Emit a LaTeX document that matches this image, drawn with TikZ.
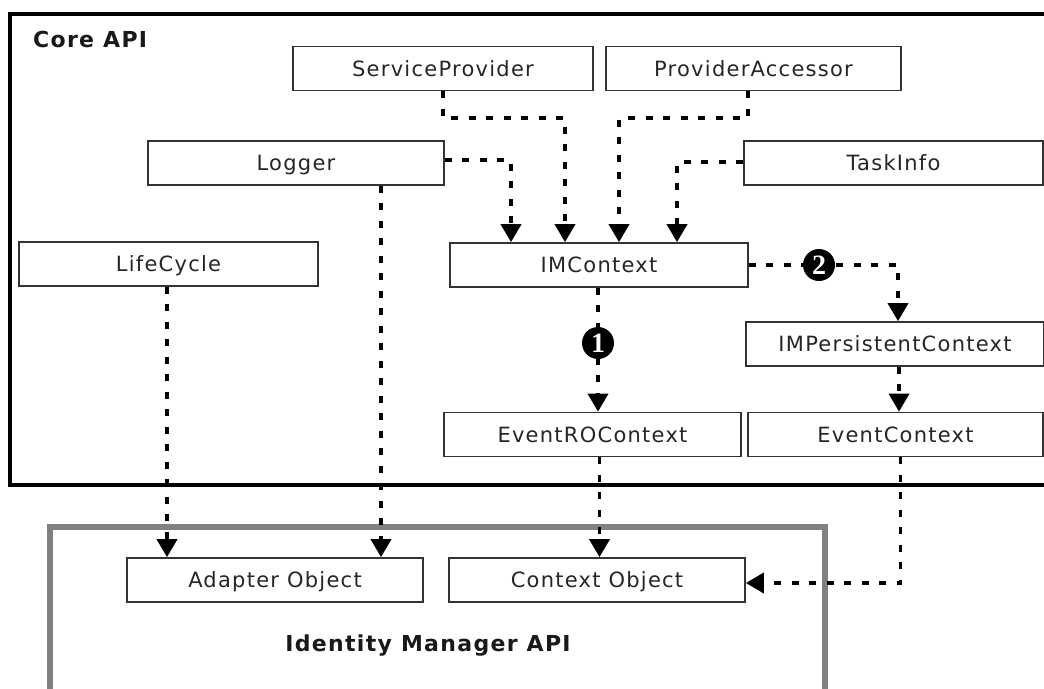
\documentclass[tikz,border=0pt]{standalone}
\usepackage{fontspec}
\setmainfont{DejaVu Sans}[LetterSpace=6]
\newfontfamily\digitfont{Liberation Serif}
\usetikzlibrary{arrows.meta}
\begin{document}
\begin{tikzpicture}[x=1pt,y=-1pt,
  box/.style={draw=black!80, line width=1.7pt, minimum height=44pt, minimum width=298pt,
    inner sep=0pt, text height=15pt, text depth=0pt,
    font=\fontsize{21}{25}\selectfont, text=black!85},
  conn/.style={line width=3.8pt, dash pattern=on 7pt off 10.5pt,
    -{Triangle[width=20pt,length=18pt]}},
  marker/.style={circle, fill=black, minimum size=32pt, inner sep=0pt, text=white,
    font=\digitfont\bfseries\fontsize{28}{28}\selectfont},
  title/.style={font=\bfseries\fontsize{22}{26}\selectfont, text=black!90, inner sep=0pt}]
\useasboundingbox (0,0) rectangle (1044,688);
\clip (0,0) rectangle (1044,688);
\fill[white] (0,0) rectangle (1044,688);

% frames
\draw[line width=4pt, black] (1050,14) -- (10,14) -- (10,485) -- (1050,485);
\draw[line width=5.5pt, black!50] (50,700) -- (50,527) -- (825,527) -- (825,700);

\node[title, anchor=base west] (core) at (33,47) {Core API};
\node[title, anchor=base] (ima) at (428,651) {Identity Manager API};

% boxes
\node[box, minimum width=300pt] (SP)  at (443,68.5)  {ServiceProvider};
\node[box, minimum width=295pt] (PA)  at (753.5,68.5) {ProviderAccessor};
\node[box, minimum width=296pt] (Log) at (296,163)   {Logger};
\node[box, minimum width=299pt] (TI)  at (893.5,163) {TaskInfo};
\node[box, minimum width=299pt] (LC)  at (168.5,264) {LifeCycle};
\node[box, minimum width=298pt] (IMC) at (599,265)   {IMContext};
\node[box, minimum width=298pt] (IPC) at (895,344)   {IMPersistentContext};
\node[box, minimum width=297pt] (ERO) at (592.5,434.5) {EventROContext};
\node[box, minimum width=295pt] (EC)  at (895.5,434.5) {EventContext};
\node[box, minimum width=296pt] (AO)  at (275,580)   {Adapter Object};
\node[box, minimum width=296pt] (CO)  at (597,580)   {Context Object};

% connectors
\draw[conn] (SP.south) -- ++(0,27) -| ([xshift=-34pt]IMC.north);
\draw[conn] ([xshift=-5.5pt]PA.south) -- ++(0,27) -| ([xshift=20pt]IMC.north);
\draw[conn] ([yshift=3pt]Log.east) -| ([xshift=-88pt]IMC.north);
\draw[conn] ([yshift=1pt]TI.west) -| ([xshift=78pt]IMC.north);
\draw[conn] (IMC.east) -| ([xshift=3pt]IPC.north);
\draw[conn] ([xshift=-1pt]IMC.south) -- ([xshift=-1pt]IMC.south |- ERO.north);
\draw[conn] ([xshift=4pt]IPC.south) -- ([xshift=4pt]IPC.south |- EC.north);
\draw[conn] ([xshift=7pt]ERO.south) -- ([xshift=7pt]ERO.south |- CO.north);
\draw[conn] ([xshift=5pt]EC.south) |- ([yshift=-3pt]CO.east);
\draw[conn] ([xshift=-1.5pt]LC.south) -- ([xshift=-1.5pt]LC.south |- AO.north);
\draw[conn] ([xshift=85pt]Log.south) -- ([xshift=85pt]Log.south |- AO.north);

% markers
\node[marker] (m1) at (598,343) {1};
\node[marker] (m2) at (819,265) {2};
\end{tikzpicture}
\end{document}
